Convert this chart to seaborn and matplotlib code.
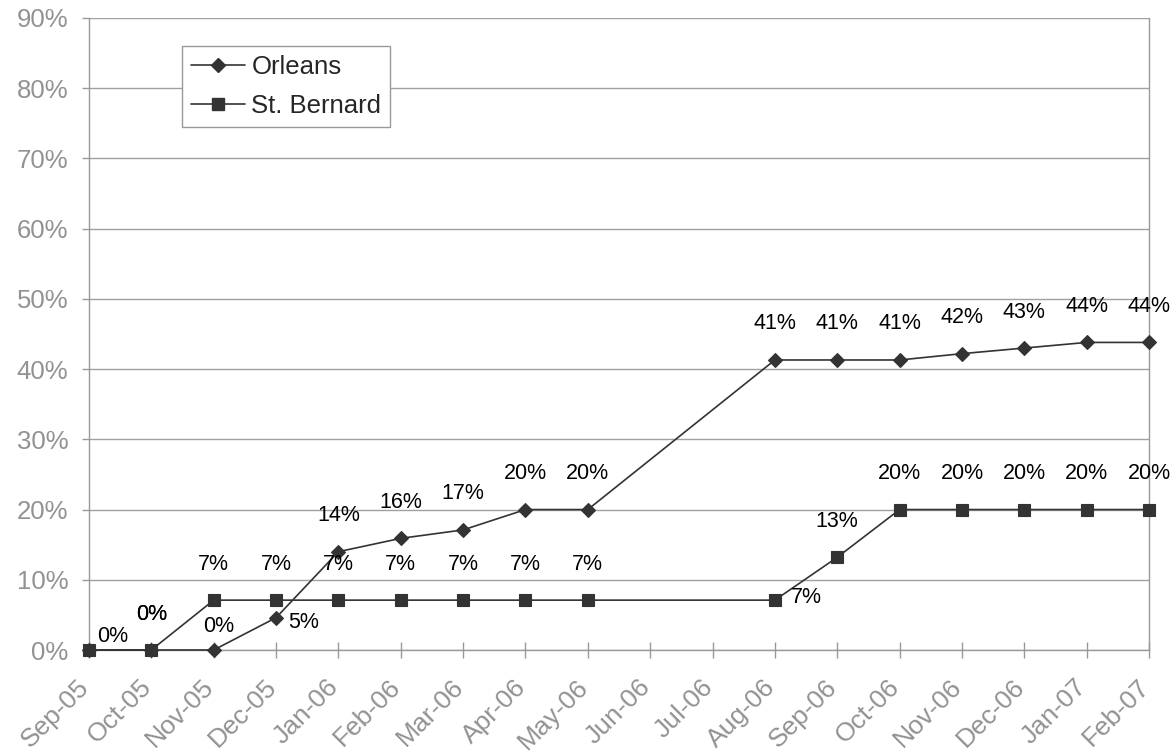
import matplotlib
matplotlib.use("Agg")
import matplotlib.pyplot as plt
import matplotlib.transforms as mtransforms
import numpy as np
import pandas as pd
import seaborn as sns
from matplotlib import ticker
from matplotlib.lines import Line2D

months = ["Sep-05", "Oct-05", "Nov-05", "Dec-05", "Jan-06", "Feb-06", "Mar-06",
          "Apr-06", "May-06", "Jun-06", "Jul-06", "Aug-06", "Sep-06", "Oct-06",
          "Nov-06", "Dec-06", "Jan-07", "Feb-07"]
orleans = [0.0, 0.0, 0.0, 4.6, 14.0, 15.9, 17.1, 20.0, 20.0, np.nan, np.nan,
           41.3, 41.3, 41.3, 42.2, 43.0, 43.8, 43.8]
st_bernard = [0.0, 0.0, 7.1, 7.1, 7.1, 7.1, 7.1, 7.1, 7.1, np.nan, np.nan,
              7.1, 13.2, 20.0, 20.0, 20.0, 20.0, 20.0]
y_ticks = [0.0, 0.1, 0.2, 0.3, 0.4, 0.5, 0.6, 0.7, 0.8, 0.9]

DARK = "#333333"
GREY = "#999999"
TICK_TXT = "#929292"

# label offsets in pixels (default is straight above the point)
label_offsets = {
    ("Orleans", "Sep-05"): None,
    ("St. Bernard", "Sep-05"): (24, 13),
    ("Orleans", "Nov-05"): (5, 23),
    ("Orleans", "Dec-05"): (28, -5),
    ("St. Bernard", "Aug-06"): (31, 3),
}

sns.set_theme(style="white")
plt.rcParams["font.family"] = ["Liberation Sans", "DejaVu Sans"]

fig = plt.figure(figsize=(11.76, 7.53), dpi=100)
ax = fig.add_axes([89 / 1176, 1 - 650 / 753, 1060 / 1176, 632 / 753])

series = {"Orleans": (orleans, "D", 7.6), "St. Bernard": (st_bernard, "s", 8.8)}
handles = []
for name, (vals, marker, ms) in series.items():
    df = pd.DataFrame({"idx": range(len(months)), "month": months,
                       "value": np.array(vals) / 100.0}).dropna()
    sns.lineplot(data=df, x="idx", y="value", ax=ax, color=DARK, linewidth=1.2,
                 marker=marker, markersize=ms, markeredgecolor=DARK,
                 markeredgewidth=0.8, clip_on=False, zorder=5)
    handles.append(Line2D([], [], color=DARK, linewidth=1.2, marker=marker,
                          markersize=ms, markeredgecolor=DARK, label=name))
    for _, row in df.iterrows():
        off = label_offsets.get((name, row["month"]), (0, 36))
        if off is None:
            continue
        ax.annotate(f"{row['value'] * 100:.0f}%", (row["idx"], row["value"]),
                    xytext=off, textcoords="offset pixels", ha="center",
                    va="center", fontsize=15.5, color="black", zorder=6,
                    annotation_clip=False)

ax.set_xlim(0, len(months) - 1)
ax.set_ylim(0, 0.9)
ax.set_yticks(y_ticks)
ax.yaxis.set_major_formatter(ticker.PercentFormatter(1, decimals=0))
ax.set_xticks(range(len(months)), months, rotation=45, ha="right", va="top",
              rotation_mode="anchor")
ax.set_xlabel("")
ax.set_ylabel("")

ax.yaxis.grid(True, color="#a0a0a0", linewidth=1)
ax.xaxis.grid(False)
for side in ["left", "right", "bottom"]:
    ax.spines[side].set_color(GREY)
    ax.spines[side].set_linewidth(1)
ax.spines["top"].set_visible(False)

ax.tick_params(axis="y", direction="out", length=5, width=1, color=GREY,
               labelsize=18.5, labelcolor=TICK_TXT, left=True, pad=10)
ax.tick_params(axis="x", direction="inout", length=11, width=1, color=GREY,
               labelsize=19, labelcolor=TICK_TXT, bottom=True, pad=4)
shift = mtransforms.ScaledTranslation(-0.12, -0.115, fig.dpi_scale_trans)
for lab in ax.get_xticklabels():
    lab.set_transform(lab.get_transform() + shift)

leg = ax.legend(handles=handles, loc="upper left",
                bbox_to_anchor=(93 / 1060, 1 - 28 / 632), borderaxespad=0,
                fontsize=18.5, frameon=True, fancybox=False, edgecolor=GREY,
                framealpha=1, handlelength=2.1, handletextpad=0.25,
                labelspacing=0.6, borderpad=0.35)
leg.get_frame().set_linewidth(1)

fig.savefig("out.png", dpi=100)
